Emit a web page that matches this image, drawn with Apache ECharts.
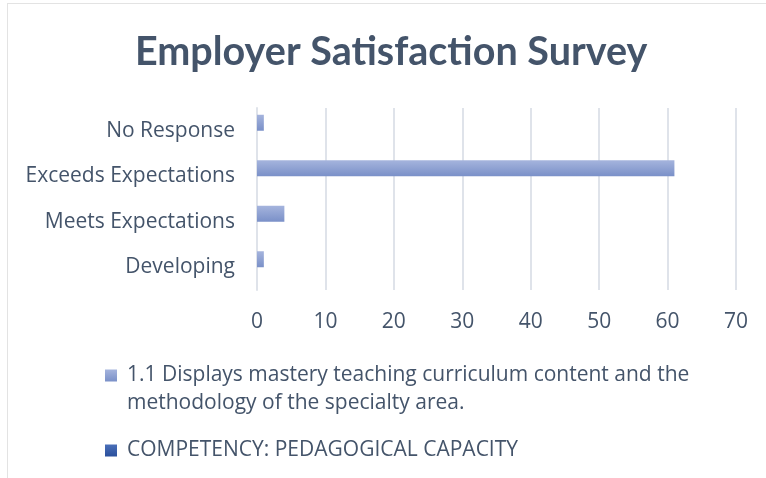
<!DOCTYPE html>
<html>
<head>
<meta charset="utf-8">
<script src="https://cdn.jsdelivr.net/npm/echarts@6/dist/echarts.min.js"></script>
<style>
  html, body { margin: 0; padding: 0; background: #fff; }
  #frame {
    position: absolute; left: 7px; top: 3px; width: 780px; height: 500px;
    border-left: 1px solid #e3e3e3; border-top: 1px solid #e3e3e3;
  }
  #chart { position: absolute; left: 0; top: 0; width: 766px; height: 478px; }
</style>
</head>
<body>
<div id="frame"></div>
<div id="chart"></div>
<script>
// data
var categories = ["Developing", "Meets Expectations", "Exceeds Expectations", "No Response"];
var masteryValues = [1, 4, 61, 1];
var competencyValues = [0, 0, 0, 0];
var seriesNames = [
  "1.1 Displays mastery teaching curriculum content and the methodology of the specialty area.",
  "COMPETENCY: PEDAGOGICAL CAPACITY"
];
var xTicks = [0, 10, 20, 30, 40, 50, 60, 70];

var textColor = "#44546a";
var font = "Open Sans";
var chart = echarts.init(document.getElementById("chart"));

chart.setOption({
  animation: false,
  title: {
    text: "Employer Satisfaction Survey",
    left: 130,
    top: 27,
    textStyle: {
      fontFamily: "Lato",
      fontSize: 39.5,
      fontWeight: "bold",
      color: textColor
    }
  },
  legend: {
    orient: "vertical",
    left: 100,
    top: 360,
    itemWidth: 12,
    itemHeight: 12,
    itemGap: 54,
    icon: "rect",
    data: seriesNames,
    formatter: function (name) {
      // second line of the long name is drawn below as plain text
      if (name === seriesNames[0]) return "1.1 Displays mastery teaching curriculum content and the";
      return name;
    },
    textStyle: { fontFamily: font, fontSize: 21, color: textColor, padding: [0, 0, 0, 5] }
  },
  graphic: [{
    type: "text",
    left: 127,
    top: 393,
    style: {
      text: "methodology of the specialty area.",
      font: "21px 'Open Sans'",
      fill: textColor
    }
  }],
  grid: {
    left: 257,
    right: 30,
    top: 108,
    bottom: 188
  },
  xAxis: {
    type: "value",
    min: 0,
    max: 70,
    interval: 10,
    axisLine: { show: false },
    axisTick: { show: false },
    splitLine: { lineStyle: { color: "#dfe3ea", width: 2 } },
    axisLabel: {
      margin: 22,
      fontFamily: font,
      fontSize: 21,
      color: textColor,
      formatter: function (v) { return xTicks.indexOf(v) >= 0 ? String(v) : ""; }
    }
  },
  yAxis: {
    type: "category",
    data: categories,
    axisLine: { show: true, lineStyle: { color: "#dfe3ea", width: 2 } },
    axisTick: { show: false },
    axisLabel: {
      margin: 22,
      fontFamily: font,
      fontSize: 21,
      color: textColor
    }
  },
  series: [
    {
      name: seriesNames[0],
      type: "bar",
      barWidth: 16,
      barGap: "0%",
      data: masteryValues,
      itemStyle: {
        color: new echarts.graphic.LinearGradient(0, 0, 0, 1, [
          { offset: 0, color: "#a5b4dd" },
          { offset: 1, color: "#7a90c8" }
        ])
      }
    },
    {
      name: seriesNames[1],
      type: "bar",
      barWidth: 16,
      barGap: "0%",
      data: competencyValues,
      itemStyle: {
        color: new echarts.graphic.LinearGradient(0, 0, 0, 1, [
          { offset: 0, color: "#4a6fb8" },
          { offset: 1, color: "#2a4f9c" }
        ])
      }
    }
  ]
});
</script>
</body>
</html>
